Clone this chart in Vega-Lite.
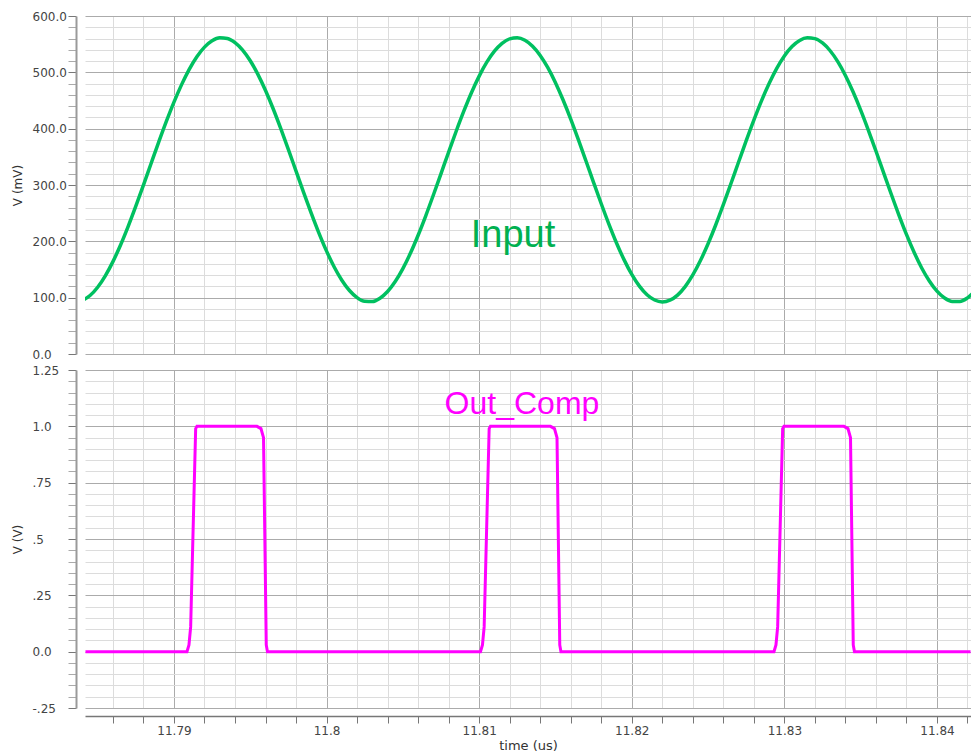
{
  "$schema": "https://vega.github.io/schema/vega-lite/v6.json",
  "autosize": {"type": "pad"},
  "padding": {"left": 11, "top": 10, "right": 0, "bottom": 0},
  "background": "white",
  "bounds": "flush",
  "spacing": 16,
  "config": {
    "view": {"stroke": null},
    "axis": {
      "labelFont": "DejaVu Sans",
      "titleFont": "DejaVu Sans",
      "labelFontSize": 12,
      "labelColor": "#444444",
      "titleColor": "#333333",
      "titleFontWeight": "normal",
      "titleFontSize": 12,
      "labelOverlap": false,
      "labelFlush": false,
      "domainColor": "#9a9a9a",
      "tickColor": "#777777",
      "gridWidth": 1
    }
  },
  "datasets": {
    "input": [
      {"time": 11.784, "v": 95.1}, {"time": 11.7845, "v": 103.8}, {"time": 11.785, "v": 118.5}, {"time": 11.7855, "v": 138.7},
      {"time": 11.786, "v": 164.0}, {"time": 11.7865, "v": 193.5}, {"time": 11.787, "v": 226.6}, {"time": 11.7875, "v": 262.4},
      {"time": 11.788, "v": 299.9}, {"time": 11.7885, "v": 338.2}, {"time": 11.789, "v": 376.1}, {"time": 11.7895, "v": 412.8},
      {"time": 11.79, "v": 447.1}, {"time": 11.7905, "v": 478.2}, {"time": 11.791, "v": 505.4}, {"time": 11.7915, "v": 527.8},
      {"time": 11.792, "v": 544.8}, {"time": 11.7925, "v": 556.0}, {"time": 11.793, "v": 561.2}, {"time": 11.7935, "v": 560.1},
      {"time": 11.794, "v": 552.8}, {"time": 11.7945, "v": 539.5}, {"time": 11.795, "v": 520.5}, {"time": 11.7955, "v": 496.4},
      {"time": 11.796, "v": 467.7}, {"time": 11.7965, "v": 435.4}, {"time": 11.797, "v": 400.1}, {"time": 11.7975, "v": 362.9},
      {"time": 11.798, "v": 324.7}, {"time": 11.7985, "v": 286.6}, {"time": 11.799, "v": 249.6}, {"time": 11.7995, "v": 214.6},
      {"time": 11.8, "v": 182.6}, {"time": 11.8005, "v": 154.5}, {"time": 11.801, "v": 131.0}, {"time": 11.8015, "v": 112.7},
      {"time": 11.802, "v": 100.0}, {"time": 11.8025, "v": 93.5}, {"time": 11.803, "v": 93.1}, {"time": 11.8035, "v": 99.0},
      {"time": 11.804, "v": 110.9}, {"time": 11.8045, "v": 128.6}, {"time": 11.805, "v": 151.6}, {"time": 11.8055, "v": 179.2},
      {"time": 11.806, "v": 210.8}, {"time": 11.8065, "v": 245.4}, {"time": 11.807, "v": 282.3}, {"time": 11.8075, "v": 320.3},
      {"time": 11.808, "v": 358.5}, {"time": 11.8085, "v": 395.9}, {"time": 11.809, "v": 431.4}, {"time": 11.8095, "v": 464.2},
      {"time": 11.81, "v": 493.3}, {"time": 11.8105, "v": 518.0}, {"time": 11.811, "v": 537.6}, {"time": 11.8115, "v": 551.5},
      {"time": 11.812, "v": 559.5}, {"time": 11.8125, "v": 561.4}, {"time": 11.813, "v": 556.9}, {"time": 11.8135, "v": 546.4},
      {"time": 11.814, "v": 530.0}, {"time": 11.8145, "v": 508.2}, {"time": 11.815, "v": 481.5}, {"time": 11.8155, "v": 450.8},
      {"time": 11.816, "v": 416.9}, {"time": 11.8165, "v": 380.4}, {"time": 11.817, "v": 342.6}, {"time": 11.8175, "v": 304.3},
      {"time": 11.818, "v": 266.7}, {"time": 11.8185, "v": 230.6}, {"time": 11.819, "v": 197.1}, {"time": 11.8195, "v": 167.1},
      {"time": 11.82, "v": 141.3}, {"time": 11.8205, "v": 120.5}, {"time": 11.821, "v": 105.2}, {"time": 11.8215, "v": 95.8},
      {"time": 11.822, "v": 92.5}, {"time": 11.8225, "v": 95.5}, {"time": 11.823, "v": 104.6}, {"time": 11.8235, "v": 119.7},
      {"time": 11.824, "v": 140.3}, {"time": 11.8245, "v": 165.9}, {"time": 11.825, "v": 195.7}, {"time": 11.8255, "v": 229.0},
      {"time": 11.826, "v": 265.0}, {"time": 11.8265, "v": 302.6}, {"time": 11.827, "v": 340.8}, {"time": 11.8275, "v": 378.7},
      {"time": 11.828, "v": 415.2}, {"time": 11.8285, "v": 449.4}, {"time": 11.829, "v": 480.2}, {"time": 11.8295, "v": 507.1},
      {"time": 11.83, "v": 529.1}, {"time": 11.8305, "v": 545.8}, {"time": 11.831, "v": 556.6}, {"time": 11.8315, "v": 561.3},
      {"time": 11.832, "v": 559.8}, {"time": 11.8325, "v": 552.1}, {"time": 11.833, "v": 538.3}, {"time": 11.8335, "v": 519.0},
      {"time": 11.834, "v": 494.5}, {"time": 11.8345, "v": 465.5}, {"time": 11.835, "v": 433.0}, {"time": 11.8355, "v": 397.6},
      {"time": 11.836, "v": 360.3}, {"time": 11.8365, "v": 322.1}, {"time": 11.837, "v": 284.0}, {"time": 11.8375, "v": 247.1},
      {"time": 11.838, "v": 212.3}, {"time": 11.8385, "v": 180.6}, {"time": 11.839, "v": 152.7}, {"time": 11.8395, "v": 129.6},
      {"time": 11.84, "v": 111.6}, {"time": 11.8405, "v": 99.4}, {"time": 11.841, "v": 93.3}, {"time": 11.8415, "v": 93.3},
      {"time": 11.842, "v": 99.6}, {"time": 11.8425, "v": 112.0}
    ],
    "out": [
      {"time": 11.7842, "v": 0},
      {"time": 11.790852, "v": 0}, {"time": 11.790983, "v": 0.03}, {"time": 11.791094, "v": 0.11}, {"time": 11.791422, "v": 0.99},
      {"time": 11.791507, "v": 1.0}, {"time": 11.795439, "v": 1.0}, {"time": 11.795701, "v": 0.99}, {"time": 11.795868, "v": 0.95},
      {"time": 11.796048, "v": 0.03}, {"time": 11.796127, "v": 0},
      {"time": 11.810085, "v": 0}, {"time": 11.810216, "v": 0.03}, {"time": 11.810327, "v": 0.11}, {"time": 11.810655, "v": 0.99},
      {"time": 11.81074, "v": 1.0}, {"time": 11.814672, "v": 1.0}, {"time": 11.814934, "v": 0.99}, {"time": 11.815101, "v": 0.95},
      {"time": 11.815281, "v": 0.03}, {"time": 11.81536, "v": 0},
      {"time": 11.829318, "v": 0}, {"time": 11.829449, "v": 0.03}, {"time": 11.82956, "v": 0.11}, {"time": 11.829888, "v": 0.99},
      {"time": 11.829973, "v": 1.0}, {"time": 11.833905, "v": 1.0}, {"time": 11.834167, "v": 0.99}, {"time": 11.834334, "v": 0.95},
      {"time": 11.834514, "v": 0.03}, {"time": 11.834593, "v": 0},
      {"time": 11.8422, "v": 0}
    ],
    "lab1": [{"time": 11.812215, "v": 190, "label": "Input"}],
    "lab2": [{"time": 11.812805, "v": 1.055, "label": "Out_Comp"}]
  },
  "vconcat": [
    {
      "width": 886,
      "height": 338,
      "encoding": {
        "x": {
          "field": "time", "type": "quantitative",
          "scale": {"domain": [11.78417, 11.84223], "nice": false, "zero": false},
          "axis": {
            "title": null, "labels": false, "ticks": false, "domain": false, "grid": true,
            "values": [11.786, 11.788, 11.79, 11.792, 11.794, 11.796, 11.798, 11.8, 11.802, 11.804, 11.806, 11.808, 11.81, 11.812, 11.814, 11.816, 11.818, 11.82, 11.822, 11.824, 11.826, 11.828, 11.83, 11.832, 11.834, 11.836, 11.838, 11.84, 11.842],
            "gridColor": {"condition": {"test": "abs(datum.value*100 - round(datum.value*100)) < 1e-6", "value": "#ababab"}, "value": "#dcdcdc"}
          }
        },
        "y": {
          "field": "v", "type": "quantitative",
          "scale": {"domain": [0, 600], "nice": false, "zero": false},
          "axis": {
            "title": "V (mV)", "titlePadding": 8, "offset": 9, "domainWidth": 2,
            "values": [0, 20, 40, 60, 80, 100, 120, 140, 160, 180, 200, 220, 240, 260, 280, 300, 320, 340, 360, 380, 400, 420, 440, 460, 480, 500, 520, 540, 560, 580, 600],
            "labelExpr": "datum.value % 100 === 0 ? format(datum.value, '.1f') : ''",
            "labelAlign": "left", "labelPadding": 36, "tickSize": 8,
            "tickColor": {"condition": {"test": "datum.value % 100 === 0", "value": "#777777"}, "value": "#aaaaaa"},
            "grid": true,
            "gridColor": {"condition": {"test": "datum.value % 100 === 0", "value": "#ababab"}, "value": "#dcdcdc"}
          }
        }
      },
      "layer": [
        {
          "data": {"name": "input"},
          "mark": {"type": "line", "color": "#00c060", "strokeWidth": 3.5, "interpolate": "monotone", "clip": true}
        },
        {
          "data": {"name": "lab1"},
          "mark": {"type": "text", "font": "Liberation Sans", "fontSize": 38, "color": "#00b050", "align": "center", "baseline": "alphabetic"},
          "encoding": {"text": {"field": "label"}}
        }
      ]
    },
    {
      "width": 886,
      "height": 338,
      "encoding": {
        "x": {
          "field": "time", "type": "quantitative",
          "scale": {"domain": [11.78417, 11.84223], "nice": false, "zero": false},
          "axis": {
            "title": "time (us)", "titleFontSize": 13, "titlePadding": 3,
            "offset": 8, "tickSize": 7, "labelPadding": 2, "domainWidth": 1.5, "domainColor": "#777777",
            "grid": true,
            "values": [11.786, 11.788, 11.79, 11.792, 11.794, 11.796, 11.798, 11.8, 11.802, 11.804, 11.806, 11.808, 11.81, 11.812, 11.814, 11.816, 11.818, 11.82, 11.822, 11.824, 11.826, 11.828, 11.83, 11.832, 11.834, 11.836, 11.838, 11.84, 11.842],
            "labelExpr": "abs(datum.value*100 - round(datum.value*100)) < 1e-6 ? format(datum.value, '.2~f') : ''",
            "gridColor": {"condition": {"test": "abs(datum.value*100 - round(datum.value*100)) < 1e-6", "value": "#ababab"}, "value": "#dcdcdc"}
          }
        },
        "y": {
          "field": "v", "type": "quantitative",
          "scale": {"domain": [-0.25, 1.25], "nice": false, "zero": false},
          "axis": {
            "title": "V (V)", "titlePadding": 8, "offset": 9, "domainWidth": 2,
            "values": [-0.25, -0.2, -0.15, -0.1, -0.05, 0, 0.05, 0.1, 0.15, 0.2, 0.25, 0.3, 0.35, 0.4, 0.45, 0.5, 0.55, 0.6, 0.65, 0.7, 0.75, 0.8, 0.85, 0.9, 0.95, 1, 1.05, 1.1, 1.15, 1.2, 1.25],
            "labelExpr": "abs(datum.value-1.25)<1e-6 ? '1.25' : abs(datum.value-1)<1e-6 ? '1.0' : abs(datum.value-0.75)<1e-6 ? '.75' : abs(datum.value-0.5)<1e-6 ? '.5' : abs(datum.value-0.25)<1e-6 ? '.25' : abs(datum.value)<1e-6 ? '0.0' : abs(datum.value+0.25)<1e-6 ? '-.25' : ''",
            "labelAlign": "left", "labelPadding": 36, "tickSize": 8,
            "tickColor": {"condition": {"test": "abs(datum.value*4 - round(datum.value*4)) < 1e-6", "value": "#777777"}, "value": "#aaaaaa"},
            "grid": true,
            "gridColor": {"condition": {"test": "abs(datum.value*4 - round(datum.value*4)) < 1e-6", "value": "#ababab"}, "value": "#dcdcdc"}
          }
        }
      },
      "layer": [
        {
          "data": {"name": "out"},
          "mark": {"type": "line", "color": "#ff00ff", "strokeWidth": 3, "interpolate": "linear", "clip": true}
        },
        {
          "data": {"name": "lab2"},
          "mark": {"type": "text", "font": "Liberation Sans", "fontSize": 32, "color": "#ff00ff", "align": "center", "baseline": "alphabetic"},
          "encoding": {"text": {"field": "label"}}
        }
      ]
    }
  ]
}
